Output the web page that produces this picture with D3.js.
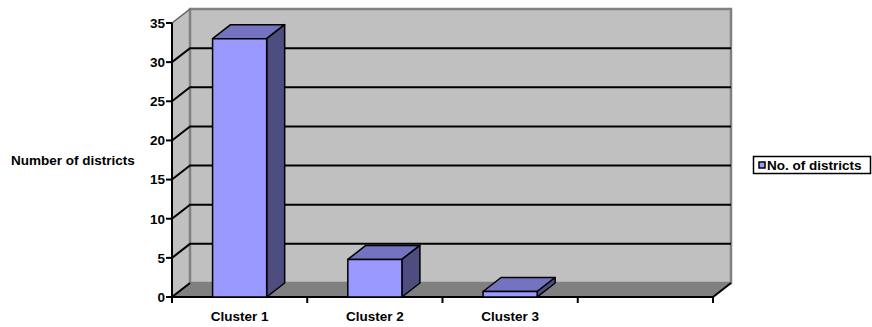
<!DOCTYPE html>
<html lang="en">
<head>
    <meta charset="UTF-8">
    <title>Number of districts</title>
    <script src="https://d3js.org/d3.v7.min.js"></script>
    <style>
        body {margin: 0; background: white;}
        svg text {font-family: "Liberation Sans", Arial, sans-serif; font-weight: bold; font-size: 13.5px; fill: black;}
    </style>
</head>
<body>
<script>
    const width = 872;
    const height = 327;

    // data
    const categories = ["Cluster 1", "Cluster 2", "Cluster 3", ""];
    const districts = [33, 4.8, 0.7];
    const yTicks = [0, 5, 10, 15, 20, 25, 30, 35];
    const seriesName = "No. of districts";

    // 3d depth offset
    const dx = 18, dy = -14;

    const svg = d3.select("body").append("svg")
            .attr("width", width).attr("height", height);

    const x = d3.scaleBand().domain(categories).range([172, 713]);
    const y = d3.scaleLinear().domain([0, 35]).range([297, 23]);

    const y0 = y(0), yTop = y(35);
    const xL = x.range()[0], xR = x.range()[1];

    // walls and floor
    svg.append("polygon")
            .attr("points", [[xL, y0], [xL, yTop], [xL + dx, yTop + dy], [xL + dx, y0 + dy]].join(" "))
            .attr("fill", "#c0c0c0");
    svg.append("rect")
            .attr("x", xL + dx).attr("y", yTop + dy)
            .attr("width", xR - xL).attr("height", y0 - yTop)
            .attr("fill", "#c0c0c0")
            .attr("stroke", "#808080").attr("stroke-width", 2.5);
    svg.append("polygon")
            .attr("points", [[xL, y0], [xR, y0], [xR + dx, y0 + dy], [xL + dx, y0 + dy]].join(" "))
            .attr("fill", "#808080");
    svg.append("path")
            .attr("d", `M${xL},${yTop}L${xL + dx},${yTop + dy}`)
            .attr("stroke", "#606060").attr("stroke-width", 1.5).attr("fill", "none");

    // gridlines
    const grid = yTicks.filter(v => v > 0 && v < 35);
    svg.append("g").selectAll("path")
            .data(grid).enter().append("path")
            .attr("d", v => `M${xL},${y(v)}L${xL + dx},${y(v) + dy}L${xR + dx},${y(v) + dy}`)
            .attr("fill", "none").attr("stroke", "black").attr("stroke-width", 2);

    // floor edges
    svg.append("path")
            .attr("d", `M${xL + dx},${y0 + dy}L${xL},${y0}L${xR},${y0}L${xR + dx},${y0 + dy}`)
            .attr("fill", "none").attr("stroke", "black").attr("stroke-width", 2);

    // bars
    const bw = x.bandwidth() * 0.4;
    const bars = svg.append("g").selectAll("g")
            .data(districts).enter().append("g")
            .attr("stroke", "black").attr("stroke-width", 1.5).attr("stroke-linejoin", "round");
    bars.each(function (d, i) {
        const g = d3.select(this);
        const x0 = x(categories[i]) + (x.bandwidth() - bw) / 2, x1 = x0 + bw, yv = y(d);
        g.append("polygon")
                .attr("points", [[x0, yv], [x1, yv], [x1 + dx, yv + dy], [x0 + dx, yv + dy]].join(" "))
                .attr("fill", "#7373bf");
        g.append("polygon")
                .attr("points", [[x1, yv], [x1 + dx, yv + dy], [x1 + dx, y0 + dy], [x1, y0]].join(" "))
                .attr("fill", "#4d4d80");
        g.append("rect")
                .attr("x", x0).attr("y", yv).attr("width", bw).attr("height", y0 - yv)
                .attr("fill", "#9999ff");
    });

    // y axis
    svg.append("line")
            .attr("x1", xL).attr("x2", xL).attr("y1", yTop).attr("y2", y0)
            .attr("stroke", "black").attr("stroke-width", 2);
    const yAxis = svg.append("g");
    yAxis.selectAll("line").data(yTicks).enter().append("line")
            .attr("x1", xL - 6).attr("x2", xL).attr("y1", y).attr("y2", y)
            .attr("stroke", "black").attr("stroke-width", 2);
    yAxis.selectAll("text").data(yTicks).enter().append("text")
            .attr("x", xL - 7).attr("y", y).attr("dy", "0.36em")
            .attr("text-anchor", "end").text(d => d);

    // x axis
    const xTickPos = categories.map(c => x(c)).concat([xR]);
    svg.append("g").selectAll("line").data(xTickPos).enter().append("line")
            .attr("x1", d => d).attr("x2", d => d).attr("y1", y0).attr("y2", y0 + 6)
            .attr("stroke", "black").attr("stroke-width", 2);
    svg.append("g").selectAll("text").data(categories).enter().append("text")
            .attr("x", d => x(d) + x.bandwidth() / 2).attr("y", 321)
            .attr("text-anchor", "middle").text(d => d);

    // axis title
    svg.append("text").attr("x", 11).attr("y", 165).text("Number of districts");

    // legend
    const legend = svg.append("g");
    legend.append("rect")
            .attr("x", 753.5).attr("y", 156.5).attr("width", 117).attr("height", 17)
            .attr("fill", "white").attr("stroke", "black").attr("stroke-width", 1.5);
    legend.append("rect")
            .attr("x", 759).attr("y", 162).attr("width", 6).attr("height", 6)
            .attr("fill", "#9999ff").attr("stroke", "black").attr("stroke-width", 1.5);
    legend.append("text").attr("x", 767).attr("y", 170).text(seriesName);
</script>
</body>
</html>
